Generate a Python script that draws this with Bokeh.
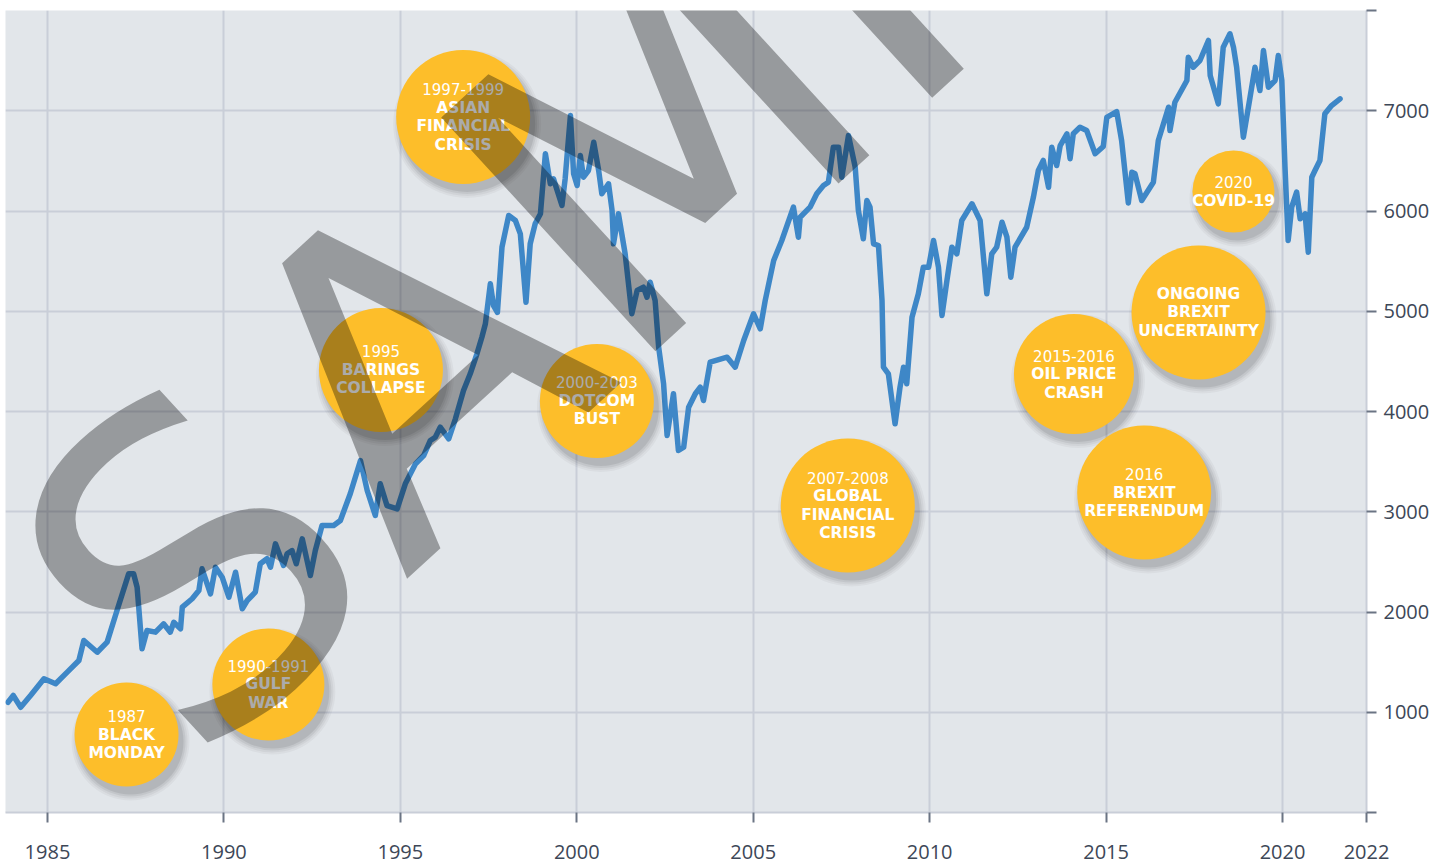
from bokeh.plotting import figure
from bokeh.models import FixedTicker, CustomJSTickFormatter, ColumnDataSource, Label, Range1d
from bokeh.core.properties import value
from bokeh.embed import file_html
from bokeh.resources import INLINE

# ---------------- data ----------------
years = [
    1983.88, 1984.03, 1984.24, 1984.52, 1984.90, 1985.23, 1985.56, 1985.89, 1986.03, 1986.41,
    1986.69, 1986.97, 1987.30, 1987.44, 1987.54, 1987.68, 1987.82, 1988.06, 1988.29, 1988.48,
    1988.58, 1988.77, 1988.82, 1989.10, 1989.29, 1989.38, 1989.62, 1989.76, 1989.95, 1990.14,
    1990.33, 1990.52, 1990.66, 1990.89, 1991.03, 1991.22, 1991.32, 1991.46, 1991.69, 1991.79,
    1991.93, 1992.05, 1992.22, 1992.45, 1992.59, 1992.78, 1993.11, 1993.30, 1993.58, 1993.87,
    1994.06, 1994.29, 1994.43, 1994.62, 1994.91, 1995.14, 1995.43, 1995.66, 1995.85, 1995.99,
    1996.13, 1996.37, 1996.56, 1996.79, 1996.98, 1997.17, 1997.31, 1997.41, 1997.55, 1997.64,
    1997.75, 1997.88, 1998.07, 1998.26, 1998.40, 1998.56, 1998.68, 1998.82, 1998.97, 1999.11,
    1999.25, 1999.34, 1999.58, 1999.67, 1999.82, 1999.91, 2000.01, 2000.10, 2000.19, 2000.33,
    2000.48, 2000.62, 2000.71, 2000.90, 2001.00, 2001.04, 2001.18, 2001.37, 2001.56, 2001.71,
    2001.89, 2001.99, 2002.08, 2002.22, 2002.32, 2002.46, 2002.56, 2002.74, 2002.88, 2003.03,
    2003.17, 2003.36, 2003.50, 2003.59, 2003.78, 2004.26, 2004.49, 2004.73, 2005.01, 2005.20,
    2005.34, 2005.58, 2005.81, 2006.14, 2006.28, 2006.33, 2006.61, 2006.80, 2006.99, 2007.13,
    2007.27, 2007.42, 2007.51, 2007.70, 2007.89, 2007.98, 2008.12, 2008.22, 2008.31, 2008.41,
    2008.55, 2008.65, 2008.69, 2008.83, 2009.02, 2009.16, 2009.26, 2009.35, 2009.50, 2009.68,
    2009.82, 2009.97, 2010.11, 2010.25, 2010.35, 2010.49, 2010.63, 2010.77, 2010.91, 2011.20,
    2011.43, 2011.62, 2011.76, 2011.90, 2012.05, 2012.19, 2012.30, 2012.42, 2012.75, 2012.94,
    2013.08, 2013.22, 2013.37, 2013.46, 2013.60, 2013.70, 2013.89, 2013.98, 2014.07, 2014.26,
    2014.45, 2014.69, 2014.92, 2015.02, 2015.30, 2015.44, 2015.63, 2015.73, 2015.82, 2016.01,
    2016.34, 2016.48, 2016.77, 2016.81, 2016.95, 2017.29, 2017.33, 2017.47, 2017.66, 2017.90,
    2017.95, 2018.18, 2018.32, 2018.51, 2018.61, 2018.70, 2018.89, 2019.08, 2019.22, 2019.36,
    2019.46, 2019.60, 2019.79, 2019.88, 2019.98, 2020.07, 2020.16, 2020.26, 2020.40, 2020.50,
    2020.64, 2020.73, 2020.83, 2020.92, 2021.06, 2021.20, 2021.39, 2021.63,
]
ftse = [
    1100, 1167, 1050, 1167, 1334, 1284, 1400, 1516, 1716, 1599,
    1699, 2015, 2381, 2381, 2247, 1633, 1815, 1799, 1882, 1799,
    1898, 1832, 2048, 2132, 2214, 2431, 2181, 2447, 2347, 2148,
    2397, 2032, 2115, 2198, 2481, 2531, 2447, 2680, 2464, 2581,
    2613, 2481, 2730, 2364, 2613, 2863, 2863, 2913, 3179, 3511,
    3212, 2963, 3279, 3062, 3029, 3279, 3478, 3561, 3711, 3744,
    3843, 3728, 3927, 4209, 4376, 4576, 4741, 4875, 5274, 5057,
    4988, 5639, 5955, 5905, 5772, 5090, 5673, 5872, 5972, 6571,
    6271, 6321, 6055, 6321, 6953, 6371, 6254, 6554, 6337, 6404,
    6686, 6404, 6172, 6271, 6005, 5673, 5972, 5573, 4975, 5207,
    5240, 5140, 5290, 5107, 4641, 4276, 3761, 4177, 3611, 3644,
    4043, 4177, 4242, 4110, 4492, 4542, 4442, 4708, 4975, 4825,
    5107, 5506, 5706, 6038, 5739, 5938, 6038, 6172, 6254, 6287,
    6636, 6636, 6337, 6753, 6437, 6005, 5723, 6105, 6038, 5673,
    5656, 5107, 4442, 4376, 3877, 4242, 4442, 4276, 4941, 5174,
    5439, 5439, 5706, 5439, 4958, 5307, 5639, 5573, 5905, 6072,
    5905, 5174, 5573, 5639, 5888, 5739, 5340, 5639, 5838, 6138,
    6404, 6504, 6237, 6636, 6454, 6653, 6770, 6521, 6770, 6836,
    6803, 6571, 6643, 6933, 6992, 6703, 6080, 6387, 6371, 6105,
    6287, 6703, 7035, 6803, 7085, 7302, 7534, 7434, 7501, 7701,
    7352, 7069, 7634, 7768, 7634, 7434, 6736, 7135, 7434, 7202,
    7601, 7235, 7302, 7551, 7302, 6437, 5706, 6038, 6188, 5922,
    5972, 5589, 6337, 6404, 6504, 6970, 7052, 7119,
]

event_years = ["1987", "1990-1991", "1995", "1997-1999", "2000-2003",
               "2007-2008", "2015-2016", "2016", "", "2020"]
event_names = ["BLACK\nMONDAY", "GULF\nWAR", "BARINGS\nCOLLAPSE", "ASIAN\nFINANCIAL\nCRISIS",
               "DOTCOM\nBUST", "GLOBAL\nFINANCIAL\nCRISIS", "OIL PRICE\nCRASH",
               "BREXIT\nREFERENDUM", "ONGOING\nBREXIT\nUNCERTAINTY", "COVID-19"]
# bubble anchor (placement in chart coordinates)
event_x = [1987.24, 1991.26, 1994.45, 1996.78, 2000.57, 2007.68, 2014.09, 2016.08, 2017.62, 2018.61]
event_y = [778, 1277, 4414, 6938, 4105, 3062, 4374, 3192, 4988, 6194]

x_tick_values = [1985, 1990, 1995, 2000, 2005, 2010, 2015, 2020, 2022.38]
x_tick_labels = ["1985", "1990", "1995", "2000", "2005", "2010", "2015", "2020", "2022"]
y_tick_values = [0, 1000, 2000, 3000, 4000, 5000, 6000, 7000, 8000]
y_tick_labels = ["", "1000", "2000", "3000", "4000", "5000", "6000", "7000", ""]

# ---------------- styles / layout ----------------
bubble_radius = [52, 56, 62, 67, 57, 67, 60, 67, 67, 41]
X_START, X_END = 1983.81, 2022.38
Y_START, Y_END = 0, 8000
W, H = 1444, 864
ML, MT, MR, MB = 5, 10, 78, 52
FRAME_W, FRAME_H = W - ML - MR, H - MT - MB
dx_px = (X_END - X_START) / FRAME_W
dy_px = (Y_END - Y_START) / FRAME_H

BG = "#E2E6EA"
GRID = "#C9CED8"
LINE = "#3E87C7"
BUBBLE = "#FDBE2A"
TICK_TXT = "#3D4757"
TICK = "#6B7484"

p = figure(width=W, height=H, output_backend="svg", toolbar_location=None,
           x_range=Range1d(X_START, X_END), y_range=Range1d(Y_START, Y_END),
           y_axis_location="right", min_border_left=ML, min_border_top=MT,
           min_border_right=MR, min_border_bottom=MB)
p.background_fill_color = BG
p.border_fill_color = "white"
p.outline_line_color = None

p.xgrid.grid_line_color = GRID
p.xgrid.grid_line_width = 2
p.ygrid.grid_line_color = GRID
p.ygrid.grid_line_width = 2

JS_LOOKUP = """
    let best = 0; let bd = 1e9;
    for (let i = 0; i < vals.length; i++) { const d = Math.abs(vals[i] - tick); if (d < bd) { bd = d; best = i; } }
    return labs[best];
"""
p.xaxis.ticker = FixedTicker(ticks=x_tick_values)
p.xaxis.formatter = CustomJSTickFormatter(args=dict(vals=x_tick_values, labs=x_tick_labels), code=JS_LOOKUP)
p.yaxis.ticker = FixedTicker(ticks=y_tick_values)
p.yaxis.formatter = CustomJSTickFormatter(args=dict(vals=y_tick_values, labs=y_tick_labels), code=JS_LOOKUP)
for ax in (p.xaxis[0], p.yaxis[0]):
    ax.axis_line_color = GRID
    ax.axis_line_width = 2
    ax.major_tick_line_color = TICK
    ax.major_tick_line_width = 2
    ax.major_tick_out = 10
    ax.major_tick_in = 0
    ax.minor_tick_line_color = None
    ax.major_label_text_font = "Open Sans"
    ax.major_label_text_font_size = "20px"
    ax.major_label_text_color = TICK_TXT
p.xaxis.major_label_standoff = 22
p.yaxis.major_label_standoff = 7

# series line
src = ColumnDataSource(dict(x=years, y=ftse))
p.line("x", "y", source=src, line_color=LINE, line_width=5.5, line_join="round", line_cap="round")

# bubble shadows
for extra, alpha in [(7, 0.035), (5, 0.045), (3, 0.06), (1, 0.08)]:
    p.scatter([x + 4 * dx_px for x in event_x], [y - 7 * dy_px for y in event_y],
              size=[2 * (r + extra) for r in bubble_radius], marker="circle",
              fill_color="black", fill_alpha=alpha, line_color=None)

# bubbles
p.scatter(event_x, event_y, size=[2 * r for r in bubble_radius], marker="circle",
          fill_color=BUBBLE, line_color=None)

# bubble texts
LH = 18.5
rx, ry, rt, ro, rb = [], [], [], [], []
for x, y, yr, nm in zip(event_x, event_y, event_years, event_names):
    lines = ([(yr, False)] if yr else []) + [(s, True) for s in nm.split("\n")]
    n = len(lines)
    for i, (s, bold) in enumerate(lines):
        rx.append(x); ry.append(y); rt.append(s)
        ro.append((i - (n - 1) / 2) * LH)
        rb.append(bold)


def pick(seq, flag):
    return [a for a, b in zip(seq, rb) if b == flag]


reg = ColumnDataSource(dict(x=pick(rx, False), y=pick(ry, False), t=pick(rt, False), o=pick(ro, False)))
bld = ColumnDataSource(dict(x=pick(rx, True), y=pick(ry, True), t=pick(rt, True), o=pick(ro, True)))
p.text("x", "y", text="t", y_offset="o", source=reg, text_font=value("DejaVu Sans"),
       text_font_size="15px", text_color="white", text_align="center", text_baseline="middle")
p.text("x", "y", text="t", y_offset="o", source=bld, text_font=value("DejaVu Sans"),
       text_font_size="15.5px", text_font_style="bold", text_color="white",
       text_align="center", text_baseline="middle")

# watermark
wm = Label(x=1986.30, y=1500, text="SAMPLE", angle=42.5, angle_units="deg",
           text_font="DejaVu Sans", text_font_size="435px", text_color="black", text_alpha=0.33,
           text_align="left", text_baseline="alphabetic")
p.add_layout(wm)

open("out.html", "w").write(file_html(p, INLINE))
